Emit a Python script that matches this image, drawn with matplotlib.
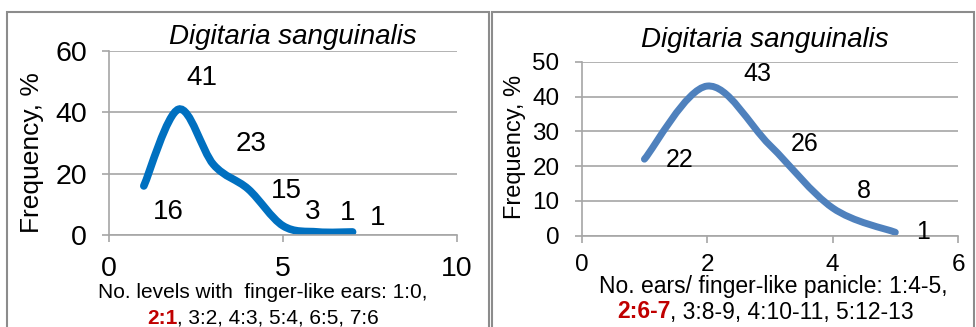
import matplotlib.pyplot as plt
from matplotlib.path import Path
from matplotlib.patches import PathPatch, Rectangle

plt.rcParams['font.family'] = ['Liberation Sans', 'DejaVu Sans']

# left chart: levels with finger-like ears
left_x = [1, 2, 3, 4, 5, 6, 7]
left_y = [16, 41, 23, 15, 3, 1, 1]
left_labels = ['16', '41', '23', '15', '3', '1', '1']

# right chart: ears per finger-like panicle
right_x = [1, 2, 3, 4, 5]
right_y = [22, 43, 26, 8, 1]
right_labels = ['22', '43', '26', '8', '1']

title = 'Digitaria sanguinalis'
ylabel = 'Frequency, %'
left_xlab1 = 'No. levels with  finger-like ears: 1:0,'
left_xlab2 = ('2:1', ', 3:2, 4:3, 5:4, 6:5, 7:6')
right_xlab1 = 'No. ears/ finger-like panicle: 1:4-5,'
right_xlab2 = ('2:6-7', ', 3:8-9, 4:10-11, 5:12-13')

GRID = '#a6a6a6'
RED = '#c00000'


# Excel style smoothed line (bezier through the points)
def smooth_path(xs, ys):
    pts = list(zip(xs, ys))
    n = len(pts)
    verts = [pts[0]]
    codes = [Path.MOVETO]
    for i in range(n - 1):
        p0 = pts[max(i - 1, 0)]
        p1 = pts[i]
        p2 = pts[i + 1]
        p3 = pts[min(i + 2, n - 1)]
        c1 = (p1[0] + (p2[0] - p0[0]) / 6, p1[1] + (p2[1] - p0[1]) / 6)
        c2 = (p2[0] - (p3[0] - p1[0]) / 6, p2[1] - (p3[1] - p1[1]) / 6)
        verts += [c1, c2, p2]
        codes += [Path.CURVE4] * 3
    return Path(verts, codes)


def style_axes(ax, ymax, ystep, xmax, xstep, fs, xpad):
    ax.set_ylim(0, ymax)
    ax.set_xlim(0, xmax)
    ax.set_yticks(range(0, ymax + 1, ystep))
    ax.set_xticks(range(0, xmax + 1, xstep))
    ax.yaxis.grid(True, color=GRID, lw=1.2)
    ax.set_axisbelow(True)
    for s in ['top', 'right']:
        ax.spines[s].set_visible(False)
    for s in ['left', 'bottom']:
        ax.spines[s].set_color(GRID)
        ax.spines[s].set_linewidth(1.2)
    ax.tick_params(axis='y', length=5, width=1.2, color=GRID, labelsize=fs, pad=11)
    ax.tick_params(axis='x', length=5, width=1.2, color=GRID, labelsize=fs, pad=xpad)


fig = plt.figure(figsize=(9.76, 3.27), dpi=100)

# panel frames
fig.patches.append(Rectangle((7 / 976, -0.05), 482 / 976, 1.05 - 12 / 327, transform=fig.transFigure,
                             fill=False, ec='#8c8c8c', lw=1.5))
fig.patches.append(Rectangle((492 / 976, -0.05), 482 / 976, 1.05 - 12 / 327, transform=fig.transFigure,
                             fill=False, ec='#8c8c8c', lw=1.5))

# ---- left
ax1 = fig.add_axes([0.1117, 0.2813, 0.3565, 0.5627])
style_axes(ax1, 60, 20, 10, 5, 20.5, 10)
ax1.add_patch(PathPatch(smooth_path(left_x, left_y), fill=False, ec='#0070c0', lw=5.5, capstyle='round'))
left_off = [(24, -26), (23, 31), (38, 20), (38, -2), (30, 14), (30, 19), (25, 14)]
for x, y, t, o in zip(left_x, left_y, left_labels, left_off):
    ax1.annotate(t, (x, y), xytext=o, textcoords='offset pixels', ha='center', va='center', fontsize=20)
fig.text(293 / 976, 1 - 37 / 327, title, style='italic', fontsize=20, ha='center', va='center')
fig.text(32 / 976, 1 - 153 / 327, ylabel, rotation=90, fontsize=19, ha='center', va='center')
fig.text(263 / 976, 1 - 292 / 327, left_xlab1, fontsize=15, ha='center', va='center')
t = fig.text(147 / 976, 1 - 318 / 327, left_xlab2[0], fontsize=15, color=RED, fontweight='bold', va='center')
ax1.annotate(left_xlab2[1], xy=(1, 0.5), xycoords=t, va='center', fontsize=15)

# ---- right
ax2 = fig.add_axes([0.596, 0.279, 0.3856, 0.5323])
style_axes(ax2, 50, 10, 6, 2, 17.5, 8)
ax2.add_patch(PathPatch(smooth_path(right_x, right_y), fill=False, ec='#4f81bd', lw=5, capstyle='round'))
right_off = [(35, -1), (50, 12), (35, 1), (31, 17), (28, 0)]
for x, y, t2, o in zip(right_x, right_y, right_labels, right_off):
    ax2.annotate(t2, (x, y), xytext=o, textcoords='offset pixels', ha='center', va='center', fontsize=18)
fig.text(765 / 976, 1 - 40 / 327, title, style='italic', fontsize=20, ha='center', va='center')
fig.text(515 / 976, 1 - 147 / 327, ylabel, rotation=90, fontsize=17, ha='center', va='center')
fig.text(773 / 976, 1 - 286 / 327, right_xlab1, fontsize=16.5, ha='center', va='center')
t = fig.text(617 / 976, 1 - 312 / 327, right_xlab2[0], fontsize=16.5, color=RED, fontweight='bold', va='center')
ax2.annotate(right_xlab2[1], xy=(1, 0.5), xycoords=t, va='center', fontsize=16.5)

fig.savefig('out.png', dpi=100)
